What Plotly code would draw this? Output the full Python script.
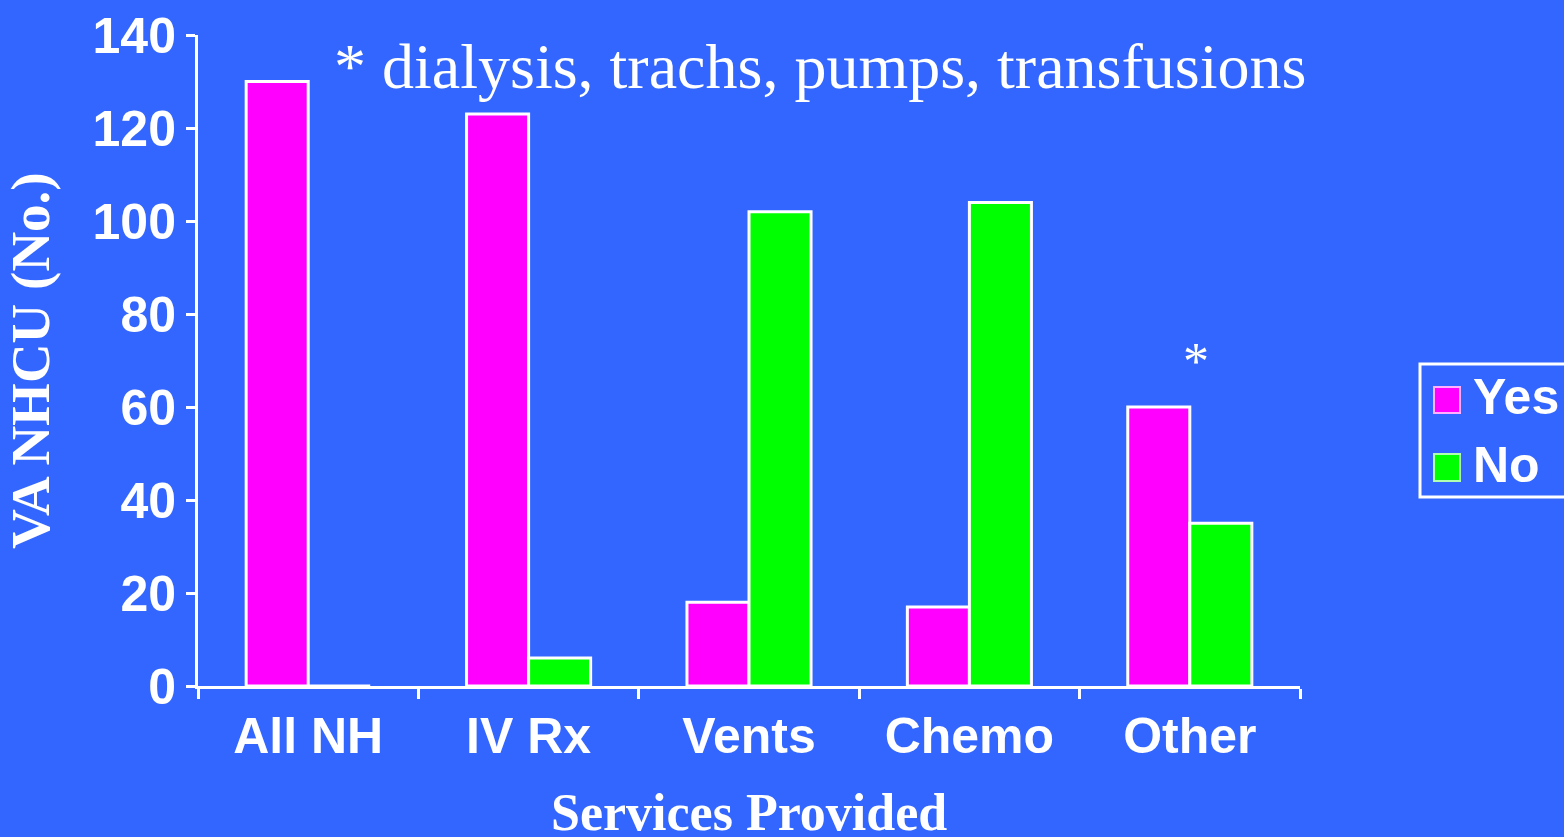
import plotly.graph_objects as go

# Services offered by VA nursing home care units
categories = ["All NH", "IV Rx", "Vents", "Chemo", "Other"]
yes_counts = [130, 123, 18, 17, 60]
no_counts = [0, 6, 102, 104, 35]
y_ticks = [0, 20, 40, 60, 80, 100, 120, 140]

BG = "#3366FF"
MAGENTA = "#FF00FF"
GREEN = "#00FF00"
WHITE = "#FFFFFF"
SANS = "Liberation Sans, Arial, sans-serif"
SERIF = "Liberation Serif, Times New Roman, serif"

W, H = 1564, 837
L, R, T, B = 198, 264, 35, 151


def px(x):
    return (x - L) / (W - L - R)


def py(y):
    return (H - B - y) / (H - T - B)


fig = go.Figure()
fig.add_trace(go.Bar(x=categories, y=yes_counts, name="Yes",
                     marker=dict(color=MAGENTA, line=dict(color=WHITE, width=3)),
                     showlegend=False))
fig.add_trace(go.Bar(x=categories, y=no_counts, name="No",
                     marker=dict(color=GREEN, line=dict(color=WHITE, width=3)),
                     showlegend=False))

# legend box with large swatches
shapes = [
    dict(type="rect", xref="paper", yref="paper",
         x0=px(1420), x1=px(1600), y0=py(364), y1=py(497),
         line=dict(color=WHITE, width=3), fillcolor=BG, layer="above"),
    dict(type="rect", xref="paper", yref="paper",
         x0=px(1434), x1=px(1460), y0=py(387), y1=py(413),
         line=dict(color="#FFB0FF", width=2), fillcolor=MAGENTA, layer="above"),
    dict(type="rect", xref="paper", yref="paper",
         x0=px(1434), x1=px(1460), y0=py(454), y1=py(481),
         line=dict(color="#B0FFB0", width=2), fillcolor=GREEN, layer="above"),
]

annotations = [
    dict(text="Yes", xref="paper", yref="paper", x=px(1471), y=py(397),
         xanchor="left", yanchor="middle", showarrow=False,
         font=dict(family=SANS, size=50, color=WHITE, weight="bold")),
    dict(text="No", xref="paper", yref="paper", x=px(1471), y=py(465),
         xanchor="left", yanchor="middle", showarrow=False,
         font=dict(family=SANS, size=50, color=WHITE, weight="bold")),
    dict(text="* dialysis, trachs, pumps, transfusions", xref="paper", yref="paper",
         x=px(332), y=py(66), xanchor="left", yanchor="middle", showarrow=False,
         font=dict(family=SERIF, size=64, color=WHITE)),
    dict(text="*", xref="x", yref="y", x="Other", y=yes_counts[4],
         xanchor="center", yanchor="bottom", xshift=6, yshift=15, showarrow=False,
         font=dict(family=SERIF, size=52, color=WHITE)),
    # x-axis title
    dict(text="<b>Services Provided</b>", xref="paper", yref="paper",
         x=0.5, y=py(812), xanchor="center", yanchor="middle", showarrow=False,
         font=dict(family=SERIF, size=52, color=WHITE)),
]

fig.update_layout(
    width=W, height=H, autosize=False,
    margin=dict(l=L, r=R, t=T, b=B, pad=0, autoexpand=False),
    paper_bgcolor=BG, plot_bgcolor=BG,
    barmode="group", bargap=0.437, bargroupgap=0,
    shapes=shapes, annotations=annotations,
    showlegend=False,
    xaxis=dict(
        automargin=False,
        showgrid=False, zeroline=False, showline=True, linecolor=WHITE, linewidth=3,
        ticks="outside", tickson="boundaries", ticklen=10, tickwidth=3, tickcolor=WHITE,
        ticklabelstandoff=4,
        tickfont=dict(family=SANS, size=50, color=WHITE, weight="bold"),
    ),
    yaxis=dict(
        automargin=False,
        range=[0, 140], tickvals=y_ticks, showgrid=False, zeroline=False,
        showline=True, linecolor=WHITE, linewidth=3,
        ticks="outside", ticklen=9, tickwidth=3, tickcolor=WHITE,
        tickfont=dict(family=SANS, size=50, color=WHITE, weight="bold"),
        title=dict(text="VA NHCU (No.)", standoff=26,
                   font=dict(family=SERIF, size=55, color=WHITE, weight="bold")),
    ),
)

fig.write_html("out.html")
